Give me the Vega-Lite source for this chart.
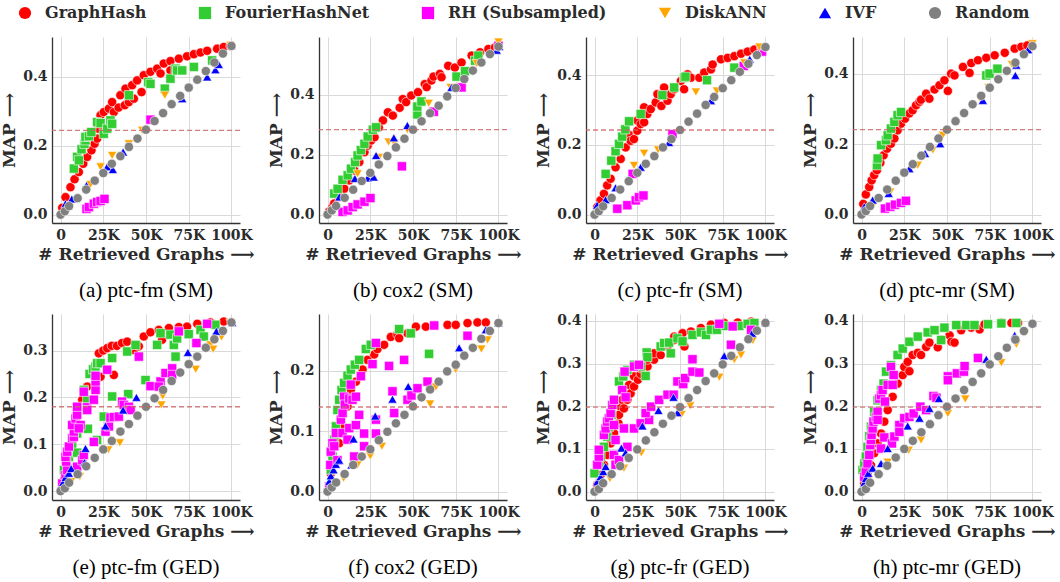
{
"$schema":"https://vega.github.io/schema/vega-lite/v6.json",
"background":"white",
"padding":{"left":0,"top":5,"right":5,"bottom":5},
"columns":4,
"spacing":{"row":91,"column":79},
"bounds":"flush",
"data":{"values":[
{"p":"a","s":"G","x":1,"y":0.02},{"p":"a","s":"G","x":2.9,"y":0.051},{"p":"a","s":"G","x":5.8,"y":0.08},{"p":"a","s":"G","x":8.2,"y":0.103},{"p":"a","s":"G","x":10.7,"y":0.124},{"p":"a","s":"G","x":13.3,"y":0.148},{"p":"a","s":"G","x":15.6,"y":0.168},{"p":"a","s":"G","x":18.1,"y":0.187},{"p":"a","s":"G","x":19.9,"y":0.206},{"p":"a","s":"G","x":21.4,"y":0.221},{"p":"a","s":"G","x":22,"y":0.25},{"p":"a","s":"G","x":23,"y":0.265},{"p":"a","s":"G","x":23.4,"y":0.289},{"p":"a","s":"G","x":25.3,"y":0.298},{"p":"a","s":"G","x":28.3,"y":0.308},{"p":"a","s":"G","x":30.2,"y":0.327},{"p":"a","s":"G","x":31.2,"y":0.298},{"p":"a","s":"G","x":34,"y":0.311},{"p":"a","s":"G","x":37.6,"y":0.318},{"p":"a","s":"G","x":40,"y":0.327},{"p":"a","s":"G","x":42.9,"y":0.337},{"p":"a","s":"G","x":35,"y":0.347},{"p":"a","s":"G","x":38,"y":0.366},{"p":"a","s":"G","x":41.9,"y":0.376},{"p":"a","s":"G","x":44.8,"y":0.39},{"p":"a","s":"G","x":47.4,"y":0.356},{"p":"a","s":"G","x":48.7,"y":0.405},{"p":"a","s":"G","x":51.7,"y":0.381},{"p":"a","s":"G","x":52.6,"y":0.415},{"p":"a","s":"G","x":56.5,"y":0.424},{"p":"a","s":"G","x":58.5,"y":0.41},{"p":"a","s":"G","x":60.4,"y":0.439},{"p":"a","s":"G","x":64.3,"y":0.446},{"p":"a","s":"G","x":64.3,"y":0.419},{"p":"a","s":"G","x":69.2,"y":0.453},{"p":"a","s":"G","x":74,"y":0.46},{"p":"a","s":"G","x":78,"y":0.466},{"p":"a","s":"G","x":81.9,"y":0.471},{"p":"a","s":"G","x":85.8,"y":0.476},{"p":"a","s":"G","x":91.6,"y":0.482},{"p":"a","s":"G","x":95.5,"y":0.487},{"p":"a","s":"G","x":99.4,"y":0.49},
{"p":"a","s":"F","x":7.8,"y":0.134},{"p":"a","s":"F","x":9.7,"y":0.168},{"p":"a","s":"F","x":10.7,"y":0.158},{"p":"a","s":"F","x":12.3,"y":0.19},{"p":"a","s":"F","x":14,"y":0.206},{"p":"a","s":"F","x":14.6,"y":0.216},{"p":"a","s":"F","x":14.6,"y":0.226},{"p":"a","s":"F","x":16.6,"y":0.228},{"p":"a","s":"F","x":18,"y":0.24},{"p":"a","s":"F","x":21.4,"y":0.269},{"p":"a","s":"F","x":23.4,"y":0.266},{"p":"a","s":"F","x":25.3,"y":0.235},{"p":"a","s":"F","x":27.3,"y":0.25},{"p":"a","s":"F","x":29.2,"y":0.274},{"p":"a","s":"F","x":30.2,"y":0.264},{"p":"a","s":"F","x":40,"y":0.347},{"p":"a","s":"F","x":51.3,"y":0.385},{"p":"a","s":"F","x":52.6,"y":0.38},{"p":"a","s":"F","x":61,"y":0.366},{"p":"a","s":"F","x":64.3,"y":0.395},{"p":"a","s":"F","x":67.3,"y":0.424},{"p":"a","s":"F","x":68.2,"y":0.419},{"p":"a","s":"F","x":71.2,"y":0.419},{"p":"a","s":"F","x":78,"y":0.429},{"p":"a","s":"F","x":88.7,"y":0.448},
{"p":"a","s":"R","x":15.2,"y":0.017},{"p":"a","s":"R","x":16.6,"y":0.022},{"p":"a","s":"R","x":19.5,"y":0.032},{"p":"a","s":"R","x":21.4,"y":0.037},{"p":"a","s":"R","x":23.4,"y":0.04},{"p":"a","s":"R","x":25.7,"y":0.046},{"p":"a","s":"R","x":52.6,"y":0.276},
{"p":"a","s":"D","x":17.5,"y":0.088},{"p":"a","s":"D","x":23.4,"y":0.139},{"p":"a","s":"D","x":30.2,"y":0.172},{"p":"a","s":"D","x":40,"y":0.206},{"p":"a","s":"D","x":47.8,"y":0.245},{"p":"a","s":"D","x":61,"y":0.347},{"p":"a","s":"D","x":85,"y":0.41},{"p":"a","s":"D","x":99.4,"y":0.492},
{"p":"a","s":"I","x":2.9,"y":0.032},{"p":"a","s":"I","x":6.6,"y":0.046},{"p":"a","s":"I","x":15.2,"y":0.085},{"p":"a","s":"I","x":27.3,"y":0.139},{"p":"a","s":"I","x":30.6,"y":0.131},{"p":"a","s":"I","x":36.6,"y":0.182},{"p":"a","s":"I","x":71.2,"y":0.337},{"p":"a","s":"I","x":85.8,"y":0.4},{"p":"a","s":"I","x":90.6,"y":0.421},{"p":"a","s":"I","x":92.6,"y":0.436},{"p":"a","s":"I","x":100,"y":0.492},
{"p":"a","s":"X","x":0,"y":0},{"p":"a","s":"X","x":2.5,"y":0.01},{"p":"a","s":"X","x":5,"y":0.025},{"p":"a","s":"X","x":10,"y":0.048},{"p":"a","s":"X","x":15,"y":0.073},{"p":"a","s":"X","x":20,"y":0.099},{"p":"a","s":"X","x":25,"y":0.121},{"p":"a","s":"X","x":30,"y":0.148},{"p":"a","s":"X","x":35,"y":0.17},{"p":"a","s":"X","x":40,"y":0.197},{"p":"a","s":"X","x":45,"y":0.221},{"p":"a","s":"X","x":50,"y":0.247},{"p":"a","s":"X","x":55,"y":0.272},{"p":"a","s":"X","x":60,"y":0.295},{"p":"a","s":"X","x":65,"y":0.321},{"p":"a","s":"X","x":70,"y":0.345},{"p":"a","s":"X","x":75,"y":0.369},{"p":"a","s":"X","x":80,"y":0.392},{"p":"a","s":"X","x":85,"y":0.417},{"p":"a","s":"X","x":90,"y":0.442},{"p":"a","s":"X","x":95,"y":0.468},{"p":"a","s":"X","x":100,"y":0.49},
{"p":"b","s":"G","x":1,"y":0.01},{"p":"b","s":"G","x":2.9,"y":0.025},{"p":"b","s":"G","x":3.9,"y":0.037},{"p":"b","s":"G","x":6.9,"y":0.059},{"p":"b","s":"G","x":9.8,"y":0.086},{"p":"b","s":"G","x":12.7,"y":0.114},{"p":"b","s":"G","x":15.7,"y":0.147},{"p":"b","s":"G","x":18.6,"y":0.175},{"p":"b","s":"G","x":21.6,"y":0.208},{"p":"b","s":"G","x":23.5,"y":0.23},{"p":"b","s":"G","x":25.5,"y":0.247},{"p":"b","s":"G","x":27.5,"y":0.258},{"p":"b","s":"G","x":30,"y":0.29},{"p":"b","s":"G","x":32.4,"y":0.314},{"p":"b","s":"G","x":35.3,"y":0.341},{"p":"b","s":"G","x":38.2,"y":0.33},{"p":"b","s":"G","x":42.2,"y":0.356},{"p":"b","s":"G","x":44,"y":0.385},{"p":"b","s":"G","x":46,"y":0.375},{"p":"b","s":"G","x":49,"y":0.397},{"p":"b","s":"G","x":52.9,"y":0.408},{"p":"b","s":"G","x":56.9,"y":0.435},{"p":"b","s":"G","x":58,"y":0.425},{"p":"b","s":"G","x":60.8,"y":0.447},{"p":"b","s":"G","x":62,"y":0.46},{"p":"b","s":"G","x":65.7,"y":0.469},{"p":"b","s":"G","x":66.7,"y":0.458},{"p":"b","s":"G","x":70.6,"y":0.496},{"p":"b","s":"G","x":74.5,"y":0.49},{"p":"b","s":"G","x":78.4,"y":0.507},{"p":"b","s":"G","x":84.3,"y":0.53},{"p":"b","s":"G","x":89.2,"y":0.541},{"p":"b","s":"G","x":94.1,"y":0.552},{"p":"b","s":"G","x":98,"y":0.557},
{"p":"b","s":"F","x":3.9,"y":0.07},{"p":"b","s":"F","x":5.9,"y":0.086},{"p":"b","s":"F","x":8.8,"y":0.116},{"p":"b","s":"F","x":11.8,"y":0.131},{"p":"b","s":"F","x":13.7,"y":0.153},{"p":"b","s":"F","x":16.1,"y":0.175},{"p":"b","s":"F","x":17.6,"y":0.197},{"p":"b","s":"F","x":19.5,"y":0.215},{"p":"b","s":"F","x":21.6,"y":0.236},{"p":"b","s":"F","x":23.5,"y":0.26},{"p":"b","s":"F","x":26.5,"y":0.283},{"p":"b","s":"F","x":28.4,"y":0.291},{"p":"b","s":"F","x":52.5,"y":0.334},{"p":"b","s":"F","x":52.5,"y":0.36},{"p":"b","s":"F","x":54.9,"y":0.377},{"p":"b","s":"F","x":75.5,"y":0.46},{"p":"b","s":"F","x":80.4,"y":0.478},{"p":"b","s":"F","x":86.3,"y":0.513},{"p":"b","s":"F","x":88.2,"y":0.53},
{"p":"b","s":"R","x":8.8,"y":0.009},{"p":"b","s":"R","x":11.8,"y":0.014},{"p":"b","s":"R","x":14.7,"y":0.025},{"p":"b","s":"R","x":17.6,"y":0.034},{"p":"b","s":"R","x":21.6,"y":0.043},{"p":"b","s":"R","x":25.1,"y":0.055},{"p":"b","s":"R","x":43.5,"y":0.161},{"p":"b","s":"R","x":62.2,"y":0.343},{"p":"b","s":"R","x":78.4,"y":0.424},{"p":"b","s":"R","x":100,"y":0.563},
{"p":"b","s":"D","x":17.6,"y":0.136},{"p":"b","s":"D","x":30,"y":0.19},{"p":"b","s":"D","x":35.7,"y":0.242},{"p":"b","s":"D","x":39.2,"y":0.238},{"p":"b","s":"D","x":46.7,"y":0.283},{"p":"b","s":"D","x":59.2,"y":0.371},{"p":"b","s":"D","x":72,"y":0.424},{"p":"b","s":"D","x":87.3,"y":0.504},{"p":"b","s":"D","x":100,"y":0.575},
{"p":"b","s":"I","x":2,"y":0.02},{"p":"b","s":"I","x":6.9,"y":0.059},{"p":"b","s":"I","x":16,"y":0.12},{"p":"b","s":"I","x":23.5,"y":0.122},{"p":"b","s":"I","x":27,"y":0.125},{"p":"b","s":"I","x":28.4,"y":0.197},{"p":"b","s":"I","x":38.8,"y":0.256},{"p":"b","s":"I","x":46.7,"y":0.297},{"p":"b","s":"I","x":72.5,"y":0.424},{"p":"b","s":"I","x":99,"y":0.548},{"p":"b","s":"I","x":100.5,"y":0.56},
{"p":"b","s":"X","x":0,"y":0},{"p":"b","s":"X","x":2.5,"y":0.014},{"p":"b","s":"X","x":5,"y":0.029},{"p":"b","s":"X","x":10,"y":0.056},{"p":"b","s":"X","x":15,"y":0.083},{"p":"b","s":"X","x":20,"y":0.112},{"p":"b","s":"X","x":25,"y":0.139},{"p":"b","s":"X","x":30,"y":0.167},{"p":"b","s":"X","x":35,"y":0.195},{"p":"b","s":"X","x":40,"y":0.224},{"p":"b","s":"X","x":45,"y":0.253},{"p":"b","s":"X","x":50,"y":0.283},{"p":"b","s":"X","x":55,"y":0.311},{"p":"b","s":"X","x":60,"y":0.338},{"p":"b","s":"X","x":65,"y":0.363},{"p":"b","s":"X","x":70,"y":0.394},{"p":"b","s":"X","x":75,"y":0.422},{"p":"b","s":"X","x":80,"y":0.452},{"p":"b","s":"X","x":85,"y":0.48},{"p":"b","s":"X","x":90,"y":0.507},{"p":"b","s":"X","x":95,"y":0.535},{"p":"b","s":"X","x":100,"y":0.56},
{"p":"c","s":"G","x":1.6,"y":0.022},{"p":"c","s":"G","x":3.5,"y":0.041},{"p":"c","s":"G","x":5.5,"y":0.06},{"p":"c","s":"G","x":7.4,"y":0.084},{"p":"c","s":"G","x":9.4,"y":0.103},{"p":"c","s":"G","x":12.3,"y":0.136},{"p":"c","s":"G","x":15.3,"y":0.16},{"p":"c","s":"G","x":18.2,"y":0.193},{"p":"c","s":"G","x":20,"y":0.23},{"p":"c","s":"G","x":21.1,"y":0.212},{"p":"c","s":"G","x":23.1,"y":0.217},{"p":"c","s":"G","x":25,"y":0.241},{"p":"c","s":"G","x":25,"y":0.27},{"p":"c","s":"G","x":27,"y":0.26},{"p":"c","s":"G","x":29,"y":0.265},{"p":"c","s":"G","x":29,"y":0.308},{"p":"c","s":"G","x":30.9,"y":0.289},{"p":"c","s":"G","x":32.9,"y":0.303},{"p":"c","s":"G","x":35.8,"y":0.322},{"p":"c","s":"G","x":36.8,"y":0.346},{"p":"c","s":"G","x":39.1,"y":0.312},{"p":"c","s":"G","x":40.7,"y":0.365},{"p":"c","s":"G","x":42.7,"y":0.327},{"p":"c","s":"G","x":44.6,"y":0.346},{"p":"c","s":"G","x":46.6,"y":0.36},{"p":"c","s":"G","x":50.5,"y":0.384},{"p":"c","s":"G","x":52.4,"y":0.36},{"p":"c","s":"G","x":54.4,"y":0.403},{"p":"c","s":"G","x":56.4,"y":0.393},{"p":"c","s":"G","x":61.3,"y":0.393},{"p":"c","s":"G","x":64.2,"y":0.408},{"p":"c","s":"G","x":68.1,"y":0.417},{"p":"c","s":"G","x":69.1,"y":0.431},{"p":"c","s":"G","x":74,"y":0.446},{"p":"c","s":"G","x":77.9,"y":0.45},{"p":"c","s":"G","x":81.8,"y":0.455},{"p":"c","s":"G","x":85.7,"y":0.462},{"p":"c","s":"G","x":89.6,"y":0.468},{"p":"c","s":"G","x":93.5,"y":0.474},{"p":"c","s":"G","x":97.5,"y":0.479},
{"p":"c","s":"F","x":6.5,"y":0.117},{"p":"c","s":"F","x":9.8,"y":0.155},{"p":"c","s":"F","x":12.3,"y":0.182},{"p":"c","s":"F","x":14.3,"y":0.203},{"p":"c","s":"F","x":16.2,"y":0.224},{"p":"c","s":"F","x":18,"y":0.245},{"p":"c","s":"F","x":20.2,"y":0.268},{"p":"c","s":"F","x":27,"y":0.289},{"p":"c","s":"F","x":39.7,"y":0.343},{"p":"c","s":"F","x":46.6,"y":0.365},{"p":"c","s":"F","x":52.4,"y":0.393},{"p":"c","s":"F","x":53.2,"y":0.396},{"p":"c","s":"F","x":65.8,"y":0.386},{"p":"c","s":"F","x":81.8,"y":0.422},
{"p":"c","s":"R","x":13.3,"y":0.017},{"p":"c","s":"R","x":19.2,"y":0.027},{"p":"c","s":"R","x":24.1,"y":0.041},{"p":"c","s":"R","x":26,"y":0.05},{"p":"c","s":"R","x":28.6,"y":0.055},{"p":"c","s":"R","x":22.3,"y":0.117},{"p":"c","s":"R","x":45.6,"y":0.231},{"p":"c","s":"R","x":87.3,"y":0.427},{"p":"c","s":"R","x":98,"y":0.468},
{"p":"c","s":"D","x":23.1,"y":0.141},{"p":"c","s":"D","x":29,"y":0.176},{"p":"c","s":"D","x":37.2,"y":0.186},{"p":"c","s":"D","x":59.3,"y":0.352},{"p":"c","s":"D","x":71.6,"y":0.355},{"p":"c","s":"D","x":87.7,"y":0.436},{"p":"c","s":"D","x":96.5,"y":0.481},
{"p":"c","s":"I","x":1.5,"y":0.027},{"p":"c","s":"I","x":6.5,"y":0.043},{"p":"c","s":"I","x":12.3,"y":0.077},{"p":"c","s":"I","x":27,"y":0.136},{"p":"c","s":"I","x":43.6,"y":0.207},{"p":"c","s":"I","x":68.1,"y":0.327},{"p":"c","s":"I","x":90.8,"y":0.446},{"p":"c","s":"I","x":99.8,"y":0.484},
{"p":"c","s":"X","x":0,"y":0},{"p":"c","s":"X","x":2.5,"y":0.01},{"p":"c","s":"X","x":5,"y":0.024},{"p":"c","s":"X","x":10,"y":0.048},{"p":"c","s":"X","x":15,"y":0.072},{"p":"c","s":"X","x":20,"y":0.096},{"p":"c","s":"X","x":25,"y":0.12},{"p":"c","s":"X","x":30,"y":0.146},{"p":"c","s":"X","x":35,"y":0.168},{"p":"c","s":"X","x":40,"y":0.193},{"p":"c","s":"X","x":45,"y":0.217},{"p":"c","s":"X","x":50,"y":0.243},{"p":"c","s":"X","x":55,"y":0.267},{"p":"c","s":"X","x":60,"y":0.29},{"p":"c","s":"X","x":65,"y":0.315},{"p":"c","s":"X","x":70,"y":0.338},{"p":"c","s":"X","x":75,"y":0.363},{"p":"c","s":"X","x":80,"y":0.386},{"p":"c","s":"X","x":85,"y":0.41},{"p":"c","s":"X","x":90,"y":0.433},{"p":"c","s":"X","x":95,"y":0.458},{"p":"c","s":"X","x":100,"y":0.481},
{"p":"d","s":"G","x":1,"y":0.03},{"p":"d","s":"G","x":2.5,"y":0.057},{"p":"d","s":"G","x":4.5,"y":0.078},{"p":"d","s":"G","x":5.9,"y":0.097},{"p":"d","s":"G","x":7.4,"y":0.112},{"p":"d","s":"G","x":9,"y":0.126},{"p":"d","s":"G","x":11,"y":0.147},{"p":"d","s":"G","x":12.9,"y":0.168},{"p":"d","s":"G","x":14.9,"y":0.187},{"p":"d","s":"G","x":17.2,"y":0.201},{"p":"d","s":"G","x":19.2,"y":0.216},{"p":"d","s":"G","x":21.1,"y":0.239},{"p":"d","s":"G","x":23.1,"y":0.258},{"p":"d","s":"G","x":25.4,"y":0.272},{"p":"d","s":"G","x":28,"y":0.287},{"p":"d","s":"G","x":29.9,"y":0.296},{"p":"d","s":"G","x":31.9,"y":0.31},{"p":"d","s":"G","x":33.9,"y":0.32},{"p":"d","s":"G","x":34.8,"y":0.326},{"p":"d","s":"G","x":37.8,"y":0.343},{"p":"d","s":"G","x":39.7,"y":0.329},{"p":"d","s":"G","x":42.7,"y":0.355},{"p":"d","s":"G","x":45.6,"y":0.367},{"p":"d","s":"G","x":48.5,"y":0.381},{"p":"d","s":"G","x":50.5,"y":0.351},{"p":"d","s":"G","x":52.4,"y":0.4},{"p":"d","s":"G","x":54.4,"y":0.395},{"p":"d","s":"G","x":59.3,"y":0.419},{"p":"d","s":"G","x":63.2,"y":0.402},{"p":"d","s":"G","x":64.2,"y":0.43},{"p":"d","s":"G","x":68.1,"y":0.438},{"p":"d","s":"G","x":73,"y":0.445},{"p":"d","s":"G","x":77.9,"y":0.452},{"p":"d","s":"G","x":83.8,"y":0.459},{"p":"d","s":"G","x":89.6,"y":0.471},{"p":"d","s":"G","x":93.5,"y":0.476},{"p":"d","s":"G","x":97,"y":0.48},
{"p":"d","s":"F","x":9,"y":0.14},{"p":"d","s":"F","x":9.4,"y":0.159},{"p":"d","s":"F","x":11.4,"y":0.197},{"p":"d","s":"F","x":14.3,"y":0.211},{"p":"d","s":"F","x":15.3,"y":0.225},{"p":"d","s":"F","x":17.2,"y":0.244},{"p":"d","s":"F","x":19.2,"y":0.263},{"p":"d","s":"F","x":21.1,"y":0.282},{"p":"d","s":"F","x":23.1,"y":0.291},{"p":"d","s":"F","x":73,"y":0.395},{"p":"d","s":"F","x":74.9,"y":0.4},{"p":"d","s":"F","x":79.5,"y":0.414},
{"p":"d","s":"R","x":13.7,"y":0.017},{"p":"d","s":"R","x":16.8,"y":0.022},{"p":"d","s":"R","x":19.6,"y":0.028},{"p":"d","s":"R","x":23.1,"y":0.033},{"p":"d","s":"R","x":26,"y":0.039},
{"p":"d","s":"D","x":7.4,"y":0.031},{"p":"d","s":"D","x":16.8,"y":0.064},{"p":"d","s":"D","x":32.9,"y":0.14},{"p":"d","s":"D","x":41.7,"y":0.183},{"p":"d","s":"D","x":47.6,"y":0.225},{"p":"d","s":"D","x":70,"y":0.324},{"p":"d","s":"D","x":74.4,"y":0.36},{"p":"d","s":"D","x":88,"y":0.426},{"p":"d","s":"D","x":100,"y":0.485},
{"p":"d","s":"I","x":1.6,"y":0.022},{"p":"d","s":"I","x":6.5,"y":0.041},{"p":"d","s":"I","x":15.9,"y":0.06},{"p":"d","s":"I","x":28,"y":0.13},{"p":"d","s":"I","x":37.2,"y":0.173},{"p":"d","s":"I","x":46,"y":0.201},{"p":"d","s":"I","x":71,"y":0.324},{"p":"d","s":"I","x":90,"y":0.395},{"p":"d","s":"I","x":90.6,"y":0.424},{"p":"d","s":"I","x":97.5,"y":0.468},
{"p":"d","s":"X","x":0,"y":0},{"p":"d","s":"X","x":2.5,"y":0.01},{"p":"d","s":"X","x":5,"y":0.024},{"p":"d","s":"X","x":10,"y":0.047},{"p":"d","s":"X","x":15,"y":0.071},{"p":"d","s":"X","x":20,"y":0.096},{"p":"d","s":"X","x":25,"y":0.119},{"p":"d","s":"X","x":30,"y":0.143},{"p":"d","s":"X","x":35,"y":0.167},{"p":"d","s":"X","x":40,"y":0.192},{"p":"d","s":"X","x":45,"y":0.216},{"p":"d","s":"X","x":50,"y":0.241},{"p":"d","s":"X","x":55,"y":0.265},{"p":"d","s":"X","x":60,"y":0.288},{"p":"d","s":"X","x":65,"y":0.313},{"p":"d","s":"X","x":70,"y":0.337},{"p":"d","s":"X","x":75,"y":0.36},{"p":"d","s":"X","x":80,"y":0.384},{"p":"d","s":"X","x":85,"y":0.408},{"p":"d","s":"X","x":90,"y":0.431},{"p":"d","s":"X","x":95,"y":0.455},{"p":"d","s":"X","x":100,"y":0.478},
{"p":"e","s":"G","x":2,"y":0.024},{"p":"e","s":"G","x":3.9,"y":0.052},{"p":"e","s":"G","x":5.8,"y":0.088},{"p":"e","s":"G","x":7.8,"y":0.123},{"p":"e","s":"G","x":9.7,"y":0.159},{"p":"e","s":"G","x":12.7,"y":0.195},{"p":"e","s":"G","x":15.6,"y":0.223},{"p":"e","s":"G","x":18.5,"y":0.248},{"p":"e","s":"G","x":20.5,"y":0.266},{"p":"e","s":"G","x":22.4,"y":0.294},{"p":"e","s":"G","x":23.4,"y":0.244},{"p":"e","s":"G","x":25,"y":0.3},{"p":"e","s":"G","x":27.3,"y":0.305},{"p":"e","s":"G","x":30,"y":0.31},{"p":"e","s":"G","x":31.2,"y":0.248},{"p":"e","s":"G","x":33,"y":0.31},{"p":"e","s":"G","x":36,"y":0.316},{"p":"e","s":"G","x":39,"y":0.319},{"p":"e","s":"G","x":42.9,"y":0.301},{"p":"e","s":"G","x":45.8,"y":0.309},{"p":"e","s":"G","x":48.7,"y":0.33},{"p":"e","s":"G","x":52.6,"y":0.339},{"p":"e","s":"G","x":57.5,"y":0.344},{"p":"e","s":"G","x":59.4,"y":0.323},{"p":"e","s":"G","x":63.4,"y":0.348},{"p":"e","s":"G","x":69.2,"y":0.35},{"p":"e","s":"G","x":74,"y":0.351},{"p":"e","s":"G","x":80,"y":0.357},{"p":"e","s":"G","x":87.7,"y":0.36},{"p":"e","s":"G","x":95.5,"y":0.362},
{"p":"e","s":"F","x":2,"y":0.045},{"p":"e","s":"F","x":4.9,"y":0.073},{"p":"e","s":"F","x":6.8,"y":0.095},{"p":"e","s":"F","x":9.7,"y":0.123},{"p":"e","s":"F","x":9.7,"y":0.082},{"p":"e","s":"F","x":13.6,"y":0.216},{"p":"e","s":"F","x":14.6,"y":0.18},{"p":"e","s":"F","x":15.6,"y":0.195},{"p":"e","s":"F","x":16,"y":0.133},{"p":"e","s":"F","x":17,"y":0.25},{"p":"e","s":"F","x":19,"y":0.26},{"p":"e","s":"F","x":20.5,"y":0.266},{"p":"e","s":"F","x":21.4,"y":0.273},{"p":"e","s":"F","x":21.4,"y":0.109},{"p":"e","s":"F","x":23.4,"y":0.273},{"p":"e","s":"F","x":25.3,"y":0.159},{"p":"e","s":"F","x":30.2,"y":0.284},{"p":"e","s":"F","x":30.2,"y":0.202},{"p":"e","s":"F","x":39,"y":0.298},{"p":"e","s":"F","x":39.6,"y":0.207},{"p":"e","s":"F","x":43.9,"y":0.312},{"p":"e","s":"F","x":49.7,"y":0.237},{"p":"e","s":"F","x":56.5,"y":0.312},{"p":"e","s":"F","x":58.5,"y":0.337},{"p":"e","s":"F","x":64.3,"y":0.334},{"p":"e","s":"F","x":66.3,"y":0.312},{"p":"e","s":"F","x":67.3,"y":0.287},{"p":"e","s":"F","x":68.2,"y":0.326},{"p":"e","s":"F","x":75,"y":0.335},{"p":"e","s":"F","x":81.9,"y":0.344},{"p":"e","s":"F","x":83.8,"y":0.33},{"p":"e","s":"F","x":90.6,"y":0.355},
{"p":"e","s":"R","x":1,"y":0.016},{"p":"e","s":"R","x":2.9,"y":0.034},{"p":"e","s":"R","x":3.9,"y":0.045},{"p":"e","s":"R","x":3.3,"y":0.063},{"p":"e","s":"R","x":2.9,"y":0.073},{"p":"e","s":"R","x":3.9,"y":0.084},{"p":"e","s":"R","x":4.9,"y":0.095},{"p":"e","s":"R","x":6.8,"y":0.113},{"p":"e","s":"R","x":7.8,"y":0.116},{"p":"e","s":"R","x":7.8,"y":0.127},{"p":"e","s":"R","x":6.8,"y":0.141},{"p":"e","s":"R","x":8.8,"y":0.155},{"p":"e","s":"R","x":9.7,"y":0.163},{"p":"e","s":"R","x":9.7,"y":0.18},{"p":"e","s":"R","x":11.7,"y":0.141},{"p":"e","s":"R","x":10.7,"y":0.134},{"p":"e","s":"R","x":13.6,"y":0.212},{"p":"e","s":"R","x":15.6,"y":0.179},{"p":"e","s":"R","x":15.6,"y":0.173},{"p":"e","s":"R","x":19.5,"y":0.195},{"p":"e","s":"R","x":20.5,"y":0.216},{"p":"e","s":"R","x":20.5,"y":0.234},{"p":"e","s":"R","x":20.5,"y":0.246},{"p":"e","s":"R","x":27.3,"y":0.259},{"p":"e","s":"R","x":9.7,"y":0.052},{"p":"e","s":"R","x":12.7,"y":0.066},{"p":"e","s":"R","x":13.6,"y":0.077},{"p":"e","s":"R","x":19.5,"y":0.105},{"p":"e","s":"R","x":26.3,"y":0.127},{"p":"e","s":"R","x":28.3,"y":0.138},{"p":"e","s":"R","x":29.2,"y":0.157},{"p":"e","s":"R","x":31.2,"y":0.158},{"p":"e","s":"R","x":34.1,"y":0.159},{"p":"e","s":"R","x":36,"y":0.191},{"p":"e","s":"R","x":37,"y":0.184},{"p":"e","s":"R","x":40,"y":0.18},{"p":"e","s":"R","x":41,"y":0.173},{"p":"e","s":"R","x":45.8,"y":0.287},{"p":"e","s":"R","x":52.6,"y":0.224},{"p":"e","s":"R","x":58.5,"y":0.234},{"p":"e","s":"R","x":57.5,"y":0.223},{"p":"e","s":"R","x":61.4,"y":0.252},{"p":"e","s":"R","x":65.3,"y":0.262},{"p":"e","s":"R","x":65.3,"y":0.248},{"p":"e","s":"R","x":69.2,"y":0.341},{"p":"e","s":"R","x":79.5,"y":0.316},{"p":"e","s":"R","x":85.8,"y":0.357},
{"p":"e","s":"D","x":6.2,"y":0.02},{"p":"e","s":"D","x":11.3,"y":0.031},{"p":"e","s":"D","x":27.9,"y":0.088},{"p":"e","s":"D","x":34.7,"y":0.103},{"p":"e","s":"D","x":59.8,"y":0.203},{"p":"e","s":"D","x":59,"y":0.184},{"p":"e","s":"D","x":79.1,"y":0.26},{"p":"e","s":"D","x":87.7,"y":0.312},{"p":"e","s":"D","x":89.3,"y":0.303},{"p":"e","s":"D","x":94.2,"y":0.329},{"p":"e","s":"D","x":99.4,"y":0.359},
{"p":"e","s":"I","x":1.4,"y":0.018},{"p":"e","s":"I","x":2.9,"y":0.029},{"p":"e","s":"I","x":4.9,"y":0.038},{"p":"e","s":"I","x":6.2,"y":0.048},{"p":"e","s":"I","x":14,"y":0.061},{"p":"e","s":"I","x":14.6,"y":0.091},{"p":"e","s":"I","x":26.3,"y":0.139},{"p":"e","s":"I","x":36.6,"y":0.173},{"p":"e","s":"I","x":44.4,"y":0.2},{"p":"e","s":"I","x":74.5,"y":0.296},{"p":"e","s":"I","x":91.2,"y":0.341},{"p":"e","s":"I","x":100.4,"y":0.36},
{"p":"e","s":"X","x":0,"y":0},{"p":"e","s":"X","x":2.5,"y":0.006},{"p":"e","s":"X","x":5,"y":0.018},{"p":"e","s":"X","x":10,"y":0.036},{"p":"e","s":"X","x":15,"y":0.053},{"p":"e","s":"X","x":20,"y":0.071},{"p":"e","s":"X","x":25,"y":0.089},{"p":"e","s":"X","x":30,"y":0.107},{"p":"e","s":"X","x":35,"y":0.127},{"p":"e","s":"X","x":40,"y":0.143},{"p":"e","s":"X","x":45,"y":0.161},{"p":"e","s":"X","x":50,"y":0.18},{"p":"e","s":"X","x":55,"y":0.198},{"p":"e","s":"X","x":60,"y":0.216},{"p":"e","s":"X","x":65,"y":0.235},{"p":"e","s":"X","x":70,"y":0.253},{"p":"e","s":"X","x":75,"y":0.271},{"p":"e","s":"X","x":80,"y":0.287},{"p":"e","s":"X","x":85,"y":0.306},{"p":"e","s":"X","x":90,"y":0.324},{"p":"e","s":"X","x":95,"y":0.342},{"p":"e","s":"X","x":100,"y":0.36},
{"p":"f","s":"G","x":1.9,"y":0.03},{"p":"f","s":"G","x":3.9,"y":0.047},{"p":"f","s":"G","x":6.8,"y":0.08},{"p":"f","s":"G","x":8.8,"y":0.108},{"p":"f","s":"G","x":11.7,"y":0.141},{"p":"f","s":"G","x":13.6,"y":0.168},{"p":"f","s":"G","x":16.6,"y":0.182},{"p":"f","s":"G","x":20.5,"y":0.202},{"p":"f","s":"G","x":23.4,"y":0.218},{"p":"f","s":"G","x":27.3,"y":0.227},{"p":"f","s":"G","x":29.2,"y":0.236},{"p":"f","s":"G","x":33.1,"y":0.243},{"p":"f","s":"G","x":37,"y":0.256},{"p":"f","s":"G","x":40.9,"y":0.26},{"p":"f","s":"G","x":41.9,"y":0.254},{"p":"f","s":"G","x":46.8,"y":0.262},{"p":"f","s":"G","x":51.7,"y":0.273},{"p":"f","s":"G","x":57.5,"y":0.273},{"p":"f","s":"G","x":62.4,"y":0.275},{"p":"f","s":"G","x":70.2,"y":0.276},{"p":"f","s":"G","x":75,"y":0.276},{"p":"f","s":"G","x":81.9,"y":0.279},{"p":"f","s":"G","x":87.7,"y":0.28},{"p":"f","s":"G","x":92.6,"y":0.28},
{"p":"f","s":"F","x":1.9,"y":0.036},{"p":"f","s":"F","x":2.9,"y":0.058},{"p":"f","s":"F","x":3.9,"y":0.086},{"p":"f","s":"F","x":4.9,"y":0.108},{"p":"f","s":"F","x":5.8,"y":0.135},{"p":"f","s":"F","x":6.8,"y":0.152},{"p":"f","s":"F","x":8.2,"y":0.168},{"p":"f","s":"F","x":9.7,"y":0.18},{"p":"f","s":"F","x":11.7,"y":0.192},{"p":"f","s":"F","x":13.6,"y":0.202},{"p":"f","s":"F","x":16,"y":0.21},{"p":"f","s":"F","x":18.5,"y":0.218},{"p":"f","s":"F","x":22.4,"y":0.236},{"p":"f","s":"F","x":25.3,"y":0.243},{"p":"f","s":"F","x":41.9,"y":0.269},{"p":"f","s":"F","x":48.7,"y":0.262},{"p":"f","s":"F","x":59.4,"y":0.228},
{"p":"f","s":"R","x":1,"y":0.008},{"p":"f","s":"R","x":1.6,"y":0.044},{"p":"f","s":"R","x":1.9,"y":0.066},{"p":"f","s":"R","x":2.9,"y":0.08},{"p":"f","s":"R","x":3.9,"y":0.075},{"p":"f","s":"R","x":4.9,"y":0.097},{"p":"f","s":"R","x":5.8,"y":0.052},{"p":"f","s":"R","x":7.8,"y":0.119},{"p":"f","s":"R","x":8.8,"y":0.13},{"p":"f","s":"R","x":8.8,"y":0.097},{"p":"f","s":"R","x":9.7,"y":0.157},{"p":"f","s":"R","x":10.1,"y":0.144},{"p":"f","s":"R","x":11.7,"y":0.086},{"p":"f","s":"R","x":12.7,"y":0.105},{"p":"f","s":"R","x":12.7,"y":0.154},{"p":"f","s":"R","x":13.6,"y":0.177},{"p":"f","s":"R","x":14.6,"y":0.152},{"p":"f","s":"R","x":15.6,"y":0.058},{"p":"f","s":"R","x":16.6,"y":0.157},{"p":"f","s":"R","x":16.6,"y":0.11},{"p":"f","s":"R","x":18.5,"y":0.127},{"p":"f","s":"R","x":19.5,"y":0.191},{"p":"f","s":"R","x":21.4,"y":0.096},{"p":"f","s":"R","x":21.4,"y":0.075},{"p":"f","s":"R","x":26.3,"y":0.211},{"p":"f","s":"R","x":28.3,"y":0.246},{"p":"f","s":"R","x":28.3,"y":0.119},{"p":"f","s":"R","x":28.3,"y":0.096},{"p":"f","s":"R","x":36,"y":0.208},{"p":"f","s":"R","x":38,"y":0.166},{"p":"f","s":"R","x":39,"y":0.13},{"p":"f","s":"R","x":44.8,"y":0.218},{"p":"f","s":"R","x":46.8,"y":0.152},{"p":"f","s":"R","x":49.1,"y":0.159},{"p":"f","s":"R","x":52.6,"y":0.171},{"p":"f","s":"R","x":58.5,"y":0.182},{"p":"f","s":"R","x":62.4,"y":0.275},{"p":"f","s":"R","x":81.9,"y":0.258},
{"p":"f","s":"D","x":9.4,"y":0.022},{"p":"f","s":"D","x":17.5,"y":0.044},{"p":"f","s":"D","x":25,"y":0.059},{"p":"f","s":"D","x":31.8,"y":0.075},{"p":"f","s":"D","x":60,"y":0.145},{"p":"f","s":"D","x":63.4,"y":0.173},{"p":"f","s":"D","x":75,"y":0.202},{"p":"f","s":"D","x":90,"y":0.236},{"p":"f","s":"D","x":93.6,"y":0.251},
{"p":"f","s":"I","x":1,"y":0.017},{"p":"f","s":"I","x":1.9,"y":0.026},{"p":"f","s":"I","x":3.5,"y":0.036},{"p":"f","s":"I","x":4.9,"y":0.045},{"p":"f","s":"I","x":6.8,"y":0.052},{"p":"f","s":"I","x":14,"y":0.044},{"p":"f","s":"I","x":15.2,"y":0.087},{"p":"f","s":"I","x":27.9,"y":0.125},{"p":"f","s":"I","x":38,"y":0.153},{"p":"f","s":"I","x":47.2,"y":0.174},{"p":"f","s":"I","x":77,"y":0.238},{"p":"f","s":"I","x":92.6,"y":0.268},{"p":"f","s":"I","x":100,"y":0.279},
{"p":"f","s":"X","x":0,"y":0},{"p":"f","s":"X","x":2.5,"y":0.007},{"p":"f","s":"X","x":5,"y":0.015},{"p":"f","s":"X","x":10,"y":0.029},{"p":"f","s":"X","x":15,"y":0.044},{"p":"f","s":"X","x":20,"y":0.058},{"p":"f","s":"X","x":25,"y":0.07},{"p":"f","s":"X","x":30,"y":0.085},{"p":"f","s":"X","x":35,"y":0.099},{"p":"f","s":"X","x":40,"y":0.113},{"p":"f","s":"X","x":45,"y":0.127},{"p":"f","s":"X","x":50,"y":0.141},{"p":"f","s":"X","x":55,"y":0.156},{"p":"f","s":"X","x":60,"y":0.169},{"p":"f","s":"X","x":65,"y":0.182},{"p":"f","s":"X","x":70,"y":0.199},{"p":"f","s":"X","x":75,"y":0.21},{"p":"f","s":"X","x":80,"y":0.225},{"p":"f","s":"X","x":85,"y":0.238},{"p":"f","s":"X","x":90,"y":0.253},{"p":"f","s":"X","x":95,"y":0.266},{"p":"f","s":"X","x":100,"y":0.279},
{"p":"g","s":"G","x":1.6,"y":0.016},{"p":"g","s":"G","x":3.5,"y":0.039},{"p":"g","s":"G","x":5.5,"y":0.063},{"p":"g","s":"G","x":7.4,"y":0.086},{"p":"g","s":"G","x":9.4,"y":0.113},{"p":"g","s":"G","x":11.4,"y":0.137},{"p":"g","s":"G","x":14,"y":0.16},{"p":"g","s":"G","x":14.3,"y":0.18},{"p":"g","s":"G","x":15,"y":0.2},{"p":"g","s":"G","x":16.2,"y":0.215},{"p":"g","s":"G","x":17.2,"y":0.195},{"p":"g","s":"G","x":19.2,"y":0.215},{"p":"g","s":"G","x":20.2,"y":0.25},{"p":"g","s":"G","x":21.1,"y":0.23},{"p":"g","s":"G","x":23.1,"y":0.246},{"p":"g","s":"G","x":23.1,"y":0.27},{"p":"g","s":"G","x":25.4,"y":0.262},{"p":"g","s":"G","x":27,"y":0.276},{"p":"g","s":"G","x":27,"y":0.289},{"p":"g","s":"G","x":31,"y":0.293},{"p":"g","s":"G","x":31,"y":0.309},{"p":"g","s":"G","x":34.8,"y":0.309},{"p":"g","s":"G","x":34.8,"y":0.324},{"p":"g","s":"G","x":38.7,"y":0.32},{"p":"g","s":"G","x":40.7,"y":0.34},{"p":"g","s":"G","x":42.7,"y":0.34},{"p":"g","s":"G","x":46.6,"y":0.355},{"p":"g","s":"G","x":46.6,"y":0.363},{"p":"g","s":"G","x":51.5,"y":0.371},{"p":"g","s":"G","x":52.6,"y":0.34},{"p":"g","s":"G","x":56.4,"y":0.375},{"p":"g","s":"G","x":62.2,"y":0.383},{"p":"g","s":"G","x":68.1,"y":0.391},{"p":"g","s":"G","x":75.9,"y":0.395},{"p":"g","s":"G","x":83.8,"y":0.396},{"p":"g","s":"G","x":91.6,"y":0.398},
{"p":"g","s":"F","x":0,"y":0.043},{"p":"g","s":"F","x":2.5,"y":0.066},{"p":"g","s":"F","x":3.5,"y":0.082},{"p":"g","s":"F","x":5.5,"y":0.105},{"p":"g","s":"F","x":7.4,"y":0.129},{"p":"g","s":"F","x":8.4,"y":0.152},{"p":"g","s":"F","x":10,"y":0.18},{"p":"g","s":"F","x":11.4,"y":0.215},{"p":"g","s":"F","x":14.3,"y":0.258},{"p":"g","s":"F","x":16.8,"y":0.27},{"p":"g","s":"F","x":19.2,"y":0.285},{"p":"g","s":"F","x":23.1,"y":0.297},{"p":"g","s":"F","x":27,"y":0.293},{"p":"g","s":"F","x":29.9,"y":0.271},{"p":"g","s":"F","x":30.5,"y":0.326},{"p":"g","s":"F","x":30.9,"y":0.315},{"p":"g","s":"F","x":38.7,"y":0.34},{"p":"g","s":"F","x":40.7,"y":0.348},{"p":"g","s":"F","x":43.6,"y":0.349},{"p":"g","s":"F","x":44.6,"y":0.324},{"p":"g","s":"F","x":48.5,"y":0.359},{"p":"g","s":"F","x":51.5,"y":0.352},{"p":"g","s":"F","x":57.3,"y":0.367},{"p":"g","s":"F","x":62.2,"y":0.373},{"p":"g","s":"F","x":65.2,"y":0.367},{"p":"g","s":"F","x":68.1,"y":0.379},{"p":"g","s":"F","x":71.6,"y":0.379},{"p":"g","s":"F","x":76.7,"y":0.388},{"p":"g","s":"F","x":84.7,"y":0.388},{"p":"g","s":"F","x":89.6,"y":0.393},{"p":"g","s":"F","x":93.5,"y":0.395},
{"p":"g","s":"R","x":1.6,"y":0.063},{"p":"g","s":"R","x":2.5,"y":0.082},{"p":"g","s":"R","x":2.5,"y":0.098},{"p":"g","s":"R","x":5.5,"y":0.133},{"p":"g","s":"R","x":6.5,"y":0.148},{"p":"g","s":"R","x":7.4,"y":0.164},{"p":"g","s":"R","x":8.4,"y":0.172},{"p":"g","s":"R","x":9.4,"y":0.184},{"p":"g","s":"R","x":10.4,"y":0.203},{"p":"g","s":"R","x":11.4,"y":0.215},{"p":"g","s":"R","x":11.4,"y":0.156},{"p":"g","s":"R","x":12.3,"y":0.121},{"p":"g","s":"R","x":11.4,"y":0.086},{"p":"g","s":"R","x":12.3,"y":0.063},{"p":"g","s":"R","x":14.3,"y":0.074},{"p":"g","s":"R","x":16.2,"y":0.238},{"p":"g","s":"R","x":17.6,"y":0.281},{"p":"g","s":"R","x":18.2,"y":0.221},{"p":"g","s":"R","x":17.2,"y":0.148},{"p":"g","s":"R","x":19.2,"y":0.105},{"p":"g","s":"R","x":23.1,"y":0.148},{"p":"g","s":"R","x":23.1,"y":0.293},{"p":"g","s":"R","x":26,"y":0.297},{"p":"g","s":"R","x":27,"y":0.16},{"p":"g","s":"R","x":31.9,"y":0.168},{"p":"g","s":"R","x":29.9,"y":0.184},{"p":"g","s":"R","x":33.1,"y":0.199},{"p":"g","s":"R","x":37.8,"y":0.215},{"p":"g","s":"R","x":42.7,"y":0.227},{"p":"g","s":"R","x":46.3,"y":0.227},{"p":"g","s":"R","x":48.5,"y":0.258},{"p":"g","s":"R","x":51.9,"y":0.252},{"p":"g","s":"R","x":53,"y":0.266},{"p":"g","s":"R","x":57.3,"y":0.31},{"p":"g","s":"R","x":57.3,"y":0.281},{"p":"g","s":"R","x":61.3,"y":0.279},{"p":"g","s":"R","x":73,"y":0.393},{"p":"g","s":"R","x":79.8,"y":0.344},{"p":"g","s":"R","x":80.8,"y":0.387},{"p":"g","s":"R","x":91.6,"y":0.379},
{"p":"g","s":"D","x":9,"y":0.031},{"p":"g","s":"D","x":17.2,"y":0.055},{"p":"g","s":"D","x":27.4,"y":0.091},{"p":"g","s":"D","x":50.9,"y":0.181},{"p":"g","s":"D","x":56,"y":0.201},{"p":"g","s":"D","x":73,"y":0.268},{"p":"g","s":"D","x":81.8,"y":0.309},{"p":"g","s":"D","x":85.7,"y":0.32},{"p":"g","s":"D","x":92.6,"y":0.354},
{"p":"g","s":"I","x":1.6,"y":0.023},{"p":"g","s":"I","x":3.5,"y":0.035},{"p":"g","s":"I","x":5.1,"y":0.047},{"p":"g","s":"I","x":6.5,"y":0.059},{"p":"g","s":"I","x":15.7,"y":0.102},{"p":"g","s":"I","x":18.2,"y":0.091},{"p":"g","s":"I","x":28,"y":0.154},{"p":"g","s":"I","x":37.4,"y":0.19},{"p":"g","s":"I","x":46.2,"y":0.221},{"p":"g","s":"I","x":48.5,"y":0.185},{"p":"g","s":"I","x":75.9,"y":0.318},{"p":"g","s":"I","x":92.2,"y":0.371},{"p":"g","s":"I","x":100,"y":0.396},
{"p":"g","s":"X","x":0,"y":0},{"p":"g","s":"X","x":2.5,"y":0.006},{"p":"g","s":"X","x":5,"y":0.02},{"p":"g","s":"X","x":10,"y":0.041},{"p":"g","s":"X","x":15,"y":0.06},{"p":"g","s":"X","x":20,"y":0.079},{"p":"g","s":"X","x":25,"y":0.099},{"p":"g","s":"X","x":30,"y":0.12},{"p":"g","s":"X","x":35,"y":0.139},{"p":"g","s":"X","x":40,"y":0.159},{"p":"g","s":"X","x":45,"y":0.178},{"p":"g","s":"X","x":50,"y":0.198},{"p":"g","s":"X","x":55,"y":0.219},{"p":"g","s":"X","x":60,"y":0.238},{"p":"g","s":"X","x":65,"y":0.259},{"p":"g","s":"X","x":70,"y":0.277},{"p":"g","s":"X","x":75,"y":0.298},{"p":"g","s":"X","x":80,"y":0.318},{"p":"g","s":"X","x":85,"y":0.338},{"p":"g","s":"X","x":90,"y":0.357},{"p":"g","s":"X","x":95,"y":0.377},{"p":"g","s":"X","x":100,"y":0.395},
{"p":"h","s":"G","x":1.6,"y":0.019},{"p":"h","s":"G","x":3.5,"y":0.039},{"p":"h","s":"G","x":5.5,"y":0.062},{"p":"h","s":"G","x":7.4,"y":0.09},{"p":"h","s":"G","x":9.4,"y":0.113},{"p":"h","s":"G","x":11.4,"y":0.136},{"p":"h","s":"G","x":13.3,"y":0.164},{"p":"h","s":"G","x":15.3,"y":0.191},{"p":"h","s":"G","x":18.2,"y":0.222},{"p":"h","s":"G","x":21.1,"y":0.253},{"p":"h","s":"G","x":24.1,"y":0.273},{"p":"h","s":"G","x":25,"y":0.292},{"p":"h","s":"G","x":27,"y":0.304},{"p":"h","s":"G","x":28,"y":0.282},{"p":"h","s":"G","x":29.9,"y":0.32},{"p":"h","s":"G","x":32.9,"y":0.325},{"p":"h","s":"G","x":34.8,"y":0.32},{"p":"h","s":"G","x":37.8,"y":0.339},{"p":"h","s":"G","x":39.7,"y":0.349},{"p":"h","s":"G","x":44.6,"y":0.338},{"p":"h","s":"G","x":46.6,"y":0.356},{"p":"h","s":"G","x":51.5,"y":0.366},{"p":"h","s":"G","x":52.6,"y":0.351},{"p":"h","s":"G","x":54.4,"y":0.349},{"p":"h","s":"G","x":58.3,"y":0.378},{"p":"h","s":"G","x":64.2,"y":0.384},{"p":"h","s":"G","x":69.1,"y":0.38},{"p":"h","s":"G","x":72,"y":0.392},{"p":"h","s":"G","x":81.8,"y":0.395},{"p":"h","s":"G","x":87.7,"y":0.395},{"p":"h","s":"G","x":91.6,"y":0.395},
{"p":"h","s":"F","x":0.6,"y":0.051},{"p":"h","s":"F","x":1.6,"y":0.066},{"p":"h","s":"F","x":2.5,"y":0.082},{"p":"h","s":"F","x":3.5,"y":0.105},{"p":"h","s":"F","x":4.5,"y":0.13},{"p":"h","s":"F","x":5.5,"y":0.152},{"p":"h","s":"F","x":7.4,"y":0.187},{"p":"h","s":"F","x":9.4,"y":0.214},{"p":"h","s":"F","x":11.4,"y":0.238},{"p":"h","s":"F","x":12.9,"y":0.253},{"p":"h","s":"F","x":14.3,"y":0.281},{"p":"h","s":"F","x":17.2,"y":0.296},{"p":"h","s":"F","x":21.1,"y":0.32},{"p":"h","s":"F","x":24.1,"y":0.335},{"p":"h","s":"F","x":28,"y":0.351},{"p":"h","s":"F","x":32.9,"y":0.363},{"p":"h","s":"F","x":38.7,"y":0.373},{"p":"h","s":"F","x":42.7,"y":0.378},{"p":"h","s":"F","x":46.6,"y":0.355},{"p":"h","s":"F","x":48.5,"y":0.384},{"p":"h","s":"F","x":55.4,"y":0.39},{"p":"h","s":"F","x":61.3,"y":0.39},{"p":"h","s":"F","x":66.1,"y":0.39},{"p":"h","s":"F","x":74,"y":0.392},{"p":"h","s":"F","x":81.8,"y":0.394},{"p":"h","s":"F","x":90.6,"y":0.395},
{"p":"h","s":"R","x":1.6,"y":0.035},{"p":"h","s":"R","x":2.5,"y":0.047},{"p":"h","s":"R","x":3.5,"y":0.066},{"p":"h","s":"R","x":4.5,"y":0.086},{"p":"h","s":"R","x":5.1,"y":0.109},{"p":"h","s":"R","x":5.5,"y":0.121},{"p":"h","s":"R","x":5.9,"y":0.133},{"p":"h","s":"R","x":6.5,"y":0.148},{"p":"h","s":"R","x":7,"y":0.164},{"p":"h","s":"R","x":8.4,"y":0.175},{"p":"h","s":"R","x":9.4,"y":0.187},{"p":"h","s":"R","x":9.4,"y":0.168},{"p":"h","s":"R","x":10.4,"y":0.218},{"p":"h","s":"R","x":11.4,"y":0.226},{"p":"h","s":"R","x":12.3,"y":0.238},{"p":"h","s":"R","x":13.7,"y":0.211},{"p":"h","s":"R","x":15.3,"y":0.25},{"p":"h","s":"R","x":17.2,"y":0.292},{"p":"h","s":"R","x":18.8,"y":0.273},{"p":"h","s":"R","x":18.2,"y":0.25},{"p":"h","s":"R","x":11.4,"y":0.101},{"p":"h","s":"R","x":13.3,"y":0.127},{"p":"h","s":"R","x":17.8,"y":0.113},{"p":"h","s":"R","x":19.2,"y":0.129},{"p":"h","s":"R","x":22.1,"y":0.156},{"p":"h","s":"R","x":22.1,"y":0.14},{"p":"h","s":"R","x":25,"y":0.172},{"p":"h","s":"R","x":28,"y":0.175},{"p":"h","s":"R","x":30.5,"y":0.183},{"p":"h","s":"R","x":34.4,"y":0.199},{"p":"h","s":"R","x":37.8,"y":0.191},{"p":"h","s":"R","x":42.1,"y":0.224},{"p":"h","s":"R","x":43.8,"y":0.22},{"p":"h","s":"R","x":50.5,"y":0.27},{"p":"h","s":"R","x":50.5,"y":0.261},{"p":"h","s":"R","x":55.8,"y":0.277},{"p":"h","s":"R","x":59.9,"y":0.281},{"p":"h","s":"R","x":60.3,"y":0.294},{"p":"h","s":"R","x":68.1,"y":0.313},
{"p":"h","s":"D","x":15.3,"y":0.069},{"p":"h","s":"D","x":27.6,"y":0.097},{"p":"h","s":"D","x":34.8,"y":0.121},{"p":"h","s":"D","x":50.5,"y":0.183},{"p":"h","s":"D","x":60.7,"y":0.217},{"p":"h","s":"D","x":81.8,"y":0.302},{"p":"h","s":"D","x":90.6,"y":0.345},{"p":"h","s":"D","x":95.5,"y":0.372},
{"p":"h","s":"I","x":1.6,"y":0.021},{"p":"h","s":"I","x":2.5,"y":0.031},{"p":"h","s":"I","x":3.9,"y":0.043},{"p":"h","s":"I","x":6.5,"y":0.055},{"p":"h","s":"I","x":11.4,"y":0.066},{"p":"h","s":"I","x":15.3,"y":0.101},{"p":"h","s":"I","x":27,"y":0.154},{"p":"h","s":"I","x":33.9,"y":0.172},{"p":"h","s":"I","x":39.7,"y":0.195},{"p":"h","s":"I","x":45.2,"y":0.218},{"p":"h","s":"I","x":73,"y":0.31},{"p":"h","s":"I","x":89.6,"y":0.366},{"p":"h","s":"I","x":100,"y":0.395},
{"p":"h","s":"X","x":0,"y":0},{"p":"h","s":"X","x":2.5,"y":0.006},{"p":"h","s":"X","x":5,"y":0.021},{"p":"h","s":"X","x":10,"y":0.041},{"p":"h","s":"X","x":15,"y":0.061},{"p":"h","s":"X","x":20,"y":0.08},{"p":"h","s":"X","x":25,"y":0.1},{"p":"h","s":"X","x":30,"y":0.119},{"p":"h","s":"X","x":35,"y":0.139},{"p":"h","s":"X","x":40,"y":0.158},{"p":"h","s":"X","x":45,"y":0.179},{"p":"h","s":"X","x":50,"y":0.199},{"p":"h","s":"X","x":55,"y":0.218},{"p":"h","s":"X","x":60,"y":0.238},{"p":"h","s":"X","x":65,"y":0.257},{"p":"h","s":"X","x":70,"y":0.277},{"p":"h","s":"X","x":75,"y":0.298},{"p":"h","s":"X","x":80,"y":0.317},{"p":"h","s":"X","x":85,"y":0.337},{"p":"h","s":"X","x":90,"y":0.356},{"p":"h","s":"X","x":95,"y":0.376},{"p":"h","s":"X","x":100,"y":0.393},
{"p":"a","h":0.245},{"p":"b","h":0.283},{"p":"c","h":0.243},{"p":"d","h":0.241},{"p":"e","h":0.18},{"p":"f","h":0.14},{"p":"g","h":0.198},{"p":"h","h":0.198}
]},
"concat":[
{"width":188,"height":186,"title":"(a) ptc-fm (SM)","layer":[
{"transform":[{"filter":"datum.p=='a'&&isValid(datum.s)"}],"mark":{"type":"point","filled":true,"opacity":1,"size":85,"stroke":"white","strokeWidth":0.6},"encoding":{"x":{"field":"x","type":"quantitative","scale":{"domain":[-5,105],"nice":false,"zero":false},"axis":{"values":[0,25,50,75,100],"labelExpr":"datum.value==0?'0':datum.value+'K'","title":"# Retrieved Graphs ⟶"}},"y":{"field":"y","type":"quantitative","scale":{"domain":[-0.024,0.516],"nice":false,"zero":false},"axis":{"values":[0,0.2,0.4],"format":".1f","title":"MAP ⟶"}},"color":{"field":"s","type":"nominal","scale":{"domain":["G","F","R","D","I","X"],"range":["#ff0000","#32cd32","#ff00ff","#ffa500","#0000ff","#808080"]},"legend":{"title":null,"labelExpr":"datum.label=='G'?'GraphHash':datum.label=='F'?'FourierHashNet':datum.label=='R'?'RH (Subsampled)':datum.label=='D'?'DiskANN':datum.label=='I'?'IVF':'Random'"}},"shape":{"field":"s","type":"nominal","scale":{"domain":["G","F","R","D","I","X"],"range":["circle","square","square","triangle-down","triangle-up","circle"]}}}},
{"transform":[{"filter":"datum.p=='a'&&isValid(datum.h)"}],"mark":{"type":"rule","color":"#cc6666","opacity":0.85,"strokeDash":[5,3],"strokeWidth":1.3},"encoding":{"y":{"field":"h","type":"quantitative","title":"MAP ⟶"}}}]},
{"width":188,"height":186,"title":"(b) cox2 (SM)","layer":[
{"transform":[{"filter":"datum.p=='b'&&isValid(datum.s)"}],"mark":{"type":"point","filled":true,"opacity":1,"size":85,"stroke":"white","strokeWidth":0.6},"encoding":{"x":{"field":"x","type":"quantitative","scale":{"domain":[-5,105],"nice":false,"zero":false},"axis":{"values":[0,25,50,75,100],"labelExpr":"datum.value==0?'0':datum.value+'K'","title":"# Retrieved Graphs ⟶"}},"y":{"field":"y","type":"quantitative","scale":{"domain":[-0.028,0.592],"nice":false,"zero":false},"axis":{"values":[0,0.2,0.4],"format":".1f","title":"MAP ⟶"}},"color":{"field":"s","type":"nominal","scale":{"domain":["G","F","R","D","I","X"],"range":["#ff0000","#32cd32","#ff00ff","#ffa500","#0000ff","#808080"]},"legend":{"title":null,"labelExpr":"datum.label=='G'?'GraphHash':datum.label=='F'?'FourierHashNet':datum.label=='R'?'RH (Subsampled)':datum.label=='D'?'DiskANN':datum.label=='I'?'IVF':'Random'"}},"shape":{"field":"s","type":"nominal","scale":{"domain":["G","F","R","D","I","X"],"range":["circle","square","square","triangle-down","triangle-up","circle"]}}}},
{"transform":[{"filter":"datum.p=='b'&&isValid(datum.h)"}],"mark":{"type":"rule","color":"#cc6666","opacity":0.85,"strokeDash":[5,3],"strokeWidth":1.3},"encoding":{"y":{"field":"h","type":"quantitative","title":"MAP ⟶"}}}]},
{"width":188,"height":186,"title":"(c) ptc-fr (SM)","layer":[
{"transform":[{"filter":"datum.p=='c'&&isValid(datum.s)"}],"mark":{"type":"point","filled":true,"opacity":1,"size":85,"stroke":"white","strokeWidth":0.6},"encoding":{"x":{"field":"x","type":"quantitative","scale":{"domain":[-5,105],"nice":false,"zero":false},"axis":{"values":[0,25,50,75,100],"labelExpr":"datum.value==0?'0':datum.value+'K'","title":"# Retrieved Graphs ⟶"}},"y":{"field":"y","type":"quantitative","scale":{"domain":[-0.024,0.51],"nice":false,"zero":false},"axis":{"values":[0,0.2,0.4],"format":".1f","title":"MAP ⟶"}},"color":{"field":"s","type":"nominal","scale":{"domain":["G","F","R","D","I","X"],"range":["#ff0000","#32cd32","#ff00ff","#ffa500","#0000ff","#808080"]},"legend":{"title":null,"labelExpr":"datum.label=='G'?'GraphHash':datum.label=='F'?'FourierHashNet':datum.label=='R'?'RH (Subsampled)':datum.label=='D'?'DiskANN':datum.label=='I'?'IVF':'Random'"}},"shape":{"field":"s","type":"nominal","scale":{"domain":["G","F","R","D","I","X"],"range":["circle","square","square","triangle-down","triangle-up","circle"]}}}},
{"transform":[{"filter":"datum.p=='c'&&isValid(datum.h)"}],"mark":{"type":"rule","color":"#cc6666","opacity":0.85,"strokeDash":[5,3],"strokeWidth":1.3},"encoding":{"y":{"field":"h","type":"quantitative","title":"MAP ⟶"}}}]},
{"width":188,"height":186,"title":"(d) ptc-mr (SM)","layer":[
{"transform":[{"filter":"datum.p=='d'&&isValid(datum.s)"}],"mark":{"type":"point","filled":true,"opacity":1,"size":85,"stroke":"white","strokeWidth":0.6},"encoding":{"x":{"field":"x","type":"quantitative","scale":{"domain":[-5,105],"nice":false,"zero":false},"axis":{"values":[0,25,50,75,100],"labelExpr":"datum.value==0?'0':datum.value+'K'","title":"# Retrieved Graphs ⟶"}},"y":{"field":"y","type":"quantitative","scale":{"domain":[-0.024,0.504],"nice":false,"zero":false},"axis":{"values":[0,0.2,0.4],"format":".1f","title":"MAP ⟶"}},"color":{"field":"s","type":"nominal","scale":{"domain":["G","F","R","D","I","X"],"range":["#ff0000","#32cd32","#ff00ff","#ffa500","#0000ff","#808080"]},"legend":{"title":null,"labelExpr":"datum.label=='G'?'GraphHash':datum.label=='F'?'FourierHashNet':datum.label=='R'?'RH (Subsampled)':datum.label=='D'?'DiskANN':datum.label=='I'?'IVF':'Random'"}},"shape":{"field":"s","type":"nominal","scale":{"domain":["G","F","R","D","I","X"],"range":["circle","square","square","triangle-down","triangle-up","circle"]}}}},
{"transform":[{"filter":"datum.p=='d'&&isValid(datum.h)"}],"mark":{"type":"rule","color":"#cc6666","opacity":0.85,"strokeDash":[5,3],"strokeWidth":1.3},"encoding":{"y":{"field":"h","type":"quantitative","title":"MAP ⟶"}}}]},
{"width":188,"height":186,"title":"(e) ptc-fm (GED)","layer":[
{"transform":[{"filter":"datum.p=='e'&&isValid(datum.s)"}],"mark":{"type":"point","filled":true,"opacity":1,"size":85,"stroke":"white","strokeWidth":0.6},"encoding":{"x":{"field":"x","type":"quantitative","scale":{"domain":[-5,105],"nice":false,"zero":false},"axis":{"values":[0,25,50,75,100],"labelExpr":"datum.value==0?'0':datum.value+'K'","title":"# Retrieved Graphs ⟶"}},"y":{"field":"y","type":"quantitative","scale":{"domain":[-0.019,0.378],"nice":false,"zero":false},"axis":{"values":[0,0.1,0.2,0.3],"format":".1f","title":"MAP ⟶"}},"color":{"field":"s","type":"nominal","scale":{"domain":["G","F","R","D","I","X"],"range":["#ff0000","#32cd32","#ff00ff","#ffa500","#0000ff","#808080"]},"legend":{"title":null,"labelExpr":"datum.label=='G'?'GraphHash':datum.label=='F'?'FourierHashNet':datum.label=='R'?'RH (Subsampled)':datum.label=='D'?'DiskANN':datum.label=='I'?'IVF':'Random'"}},"shape":{"field":"s","type":"nominal","scale":{"domain":["G","F","R","D","I","X"],"range":["circle","square","square","triangle-down","triangle-up","circle"]}}}},
{"transform":[{"filter":"datum.p=='e'&&isValid(datum.h)"}],"mark":{"type":"rule","color":"#cc6666","opacity":0.85,"strokeDash":[5,3],"strokeWidth":1.3},"encoding":{"y":{"field":"h","type":"quantitative","title":"MAP ⟶"}}}]},
{"width":188,"height":186,"title":"(f) cox2 (GED)","layer":[
{"transform":[{"filter":"datum.p=='f'&&isValid(datum.s)"}],"mark":{"type":"point","filled":true,"opacity":1,"size":85,"stroke":"white","strokeWidth":0.6},"encoding":{"x":{"field":"x","type":"quantitative","scale":{"domain":[-5,105],"nice":false,"zero":false},"axis":{"values":[0,25,50,75,100],"labelExpr":"datum.value==0?'0':datum.value+'K'","title":"# Retrieved Graphs ⟶"}},"y":{"field":"y","type":"quantitative","scale":{"domain":[-0.014,0.294],"nice":false,"zero":false},"axis":{"values":[0,0.1,0.2],"format":".1f","title":"MAP ⟶"}},"color":{"field":"s","type":"nominal","scale":{"domain":["G","F","R","D","I","X"],"range":["#ff0000","#32cd32","#ff00ff","#ffa500","#0000ff","#808080"]},"legend":{"title":null,"labelExpr":"datum.label=='G'?'GraphHash':datum.label=='F'?'FourierHashNet':datum.label=='R'?'RH (Subsampled)':datum.label=='D'?'DiskANN':datum.label=='I'?'IVF':'Random'"}},"shape":{"field":"s","type":"nominal","scale":{"domain":["G","F","R","D","I","X"],"range":["circle","square","square","triangle-down","triangle-up","circle"]}}}},
{"transform":[{"filter":"datum.p=='f'&&isValid(datum.h)"}],"mark":{"type":"rule","color":"#cc6666","opacity":0.85,"strokeDash":[5,3],"strokeWidth":1.3},"encoding":{"y":{"field":"h","type":"quantitative","title":"MAP ⟶"}}}]},
{"width":188,"height":186,"title":"(g) ptc-fr (GED)","layer":[
{"transform":[{"filter":"datum.p=='g'&&isValid(datum.s)"}],"mark":{"type":"point","filled":true,"opacity":1,"size":85,"stroke":"white","strokeWidth":0.6},"encoding":{"x":{"field":"x","type":"quantitative","scale":{"domain":[-5,105],"nice":false,"zero":false},"axis":{"values":[0,25,50,75,100],"labelExpr":"datum.value==0?'0':datum.value+'K'","title":"# Retrieved Graphs ⟶"}},"y":{"field":"y","type":"quantitative","scale":{"domain":[-0.0195,0.416],"nice":false,"zero":false},"axis":{"values":[0,0.1,0.2,0.3,0.4],"format":".1f","title":"MAP ⟶"}},"color":{"field":"s","type":"nominal","scale":{"domain":["G","F","R","D","I","X"],"range":["#ff0000","#32cd32","#ff00ff","#ffa500","#0000ff","#808080"]},"legend":{"title":null,"labelExpr":"datum.label=='G'?'GraphHash':datum.label=='F'?'FourierHashNet':datum.label=='R'?'RH (Subsampled)':datum.label=='D'?'DiskANN':datum.label=='I'?'IVF':'Random'"}},"shape":{"field":"s","type":"nominal","scale":{"domain":["G","F","R","D","I","X"],"range":["circle","square","square","triangle-down","triangle-up","circle"]}}}},
{"transform":[{"filter":"datum.p=='g'&&isValid(datum.h)"}],"mark":{"type":"rule","color":"#cc6666","opacity":0.85,"strokeDash":[5,3],"strokeWidth":1.3},"encoding":{"y":{"field":"h","type":"quantitative","title":"MAP ⟶"}}}]},
{"width":188,"height":186,"title":"(h) ptc-mr (GED)","layer":[
{"transform":[{"filter":"datum.p=='h'&&isValid(datum.s)"}],"mark":{"type":"point","filled":true,"opacity":1,"size":85,"stroke":"white","strokeWidth":0.6},"encoding":{"x":{"field":"x","type":"quantitative","scale":{"domain":[-5,105],"nice":false,"zero":false},"axis":{"values":[0,25,50,75,100],"labelExpr":"datum.value==0?'0':datum.value+'K'","title":"# Retrieved Graphs ⟶"}},"y":{"field":"y","type":"quantitative","scale":{"domain":[-0.0195,0.416],"nice":false,"zero":false},"axis":{"values":[0,0.1,0.2,0.3,0.4],"format":".1f","title":"MAP ⟶"}},"color":{"field":"s","type":"nominal","scale":{"domain":["G","F","R","D","I","X"],"range":["#ff0000","#32cd32","#ff00ff","#ffa500","#0000ff","#808080"]},"legend":{"title":null,"labelExpr":"datum.label=='G'?'GraphHash':datum.label=='F'?'FourierHashNet':datum.label=='R'?'RH (Subsampled)':datum.label=='D'?'DiskANN':datum.label=='I'?'IVF':'Random'"}},"shape":{"field":"s","type":"nominal","scale":{"domain":["G","F","R","D","I","X"],"range":["circle","square","square","triangle-down","triangle-up","circle"]}}}},
{"transform":[{"filter":"datum.p=='h'&&isValid(datum.h)"}],"mark":{"type":"rule","color":"#cc6666","opacity":0.85,"strokeDash":[5,3],"strokeWidth":1.3},"encoding":{"y":{"field":"h","type":"quantitative","title":"MAP ⟶"}}}]}
],
"config":{
"view":{"stroke":null},
"axis":{"labelFont":"DejaVu Serif","labelFontWeight":"bold","labelFontSize":14,"labelColor":"#2b2b2b","titleFont":"DejaVu Serif","titleFontWeight":"bold","titleFontSize":17,"titleColor":"#2b2b2b","gridColor":"#d9d9d9","gridWidth":1,"domainColor":"#333333","domainWidth":1.3,"ticks":false,"labelPadding":5,"titlePadding":4},
"legend":{"orient":"none","legendX":-35,"legendY":-32,"direction":"horizontal","columns":6,"symbolSize":150,"symbolStrokeWidth":0,"labelFont":"DejaVu Serif","labelFontWeight":"bold","labelFontSize":16,"labelColor":"#2b2b2b","columnPadding":50,"labelOffset":12,"labelLimit":300},
"title":{"orient":"bottom","font":"Liberation Serif","fontSize":21,"fontWeight":"normal","color":"#000000","offset":18,"anchor":"middle"}
}
}
